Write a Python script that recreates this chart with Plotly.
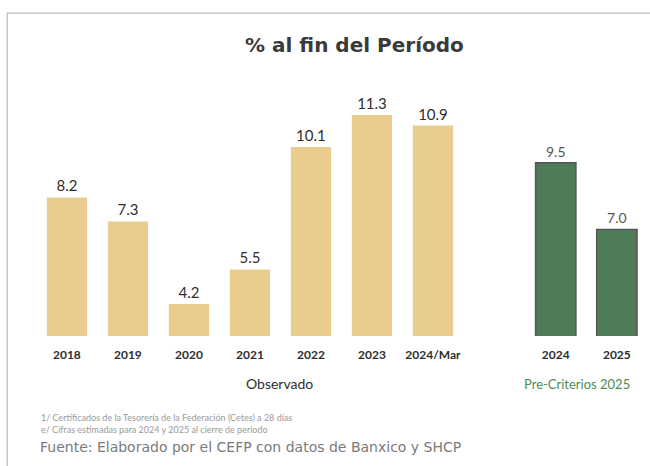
import plotly.graph_objects as go

obs_years = ["2018", "2019", "2020", "2021", "2022", "2023", "2024/Mar"]
obs_values = [8.2, 7.3, 4.2, 5.5, 10.1, 11.3, 10.9]
est_years = ["2024", "2025"]
est_values = [9.5, 7.0]

title = "% al fin del Período"
footnote_1 = "1/ Certificados de la Tesorería de la Federación (Cetes) a 28 días"
footnote_2 = "e/ Cifras estimadas para 2024 y 2025 al cierre de periodo"
source = "Fuente: Elaborado por el CEFP con datos de Banxico y SHCP"

font = "Lato"

fig = go.Figure()
fig.add_trace(go.Bar(x=obs_years, y=obs_values, xaxis="x", yaxis="y",
                     marker=dict(color="#EACC8F", line=dict(width=0)),
                     text=[f"{v:.1f}" for v in obs_values], textposition="outside",
                     textfont=dict(family=font, size=15, color="#2e2e2e"),
                     cliponaxis=False))
fig.add_trace(go.Bar(x=est_years, y=est_values, xaxis="x2", yaxis="y",
                     marker=dict(color="#4E7C56", line=dict(width=1.5, color="#555555")),
                     text=[f"{v:.1f}" for v in est_values], textposition="outside",
                     textfont=dict(family=font, size=14, color="#555555"),
                     cliponaxis=False))

tick_style = dict(type="category", showgrid=False, zeroline=False, showline=False,
                  ticks="outside", ticklen=8, tickcolor="rgba(0,0,0,0)",
                  tickfont=dict(family=font, size=12, color="#2e2e2e", weight="bold"))

fig.update_layout(
    width=650, height=466,
    margin=dict(l=0, r=0, t=0, b=0),
    paper_bgcolor="white", plot_bgcolor="white",
    showlegend=False, bargap=0.34,
    xaxis=dict(domain=[0.056, 0.713], **tick_style),
    xaxis2=dict(domain=[0.808, 0.996], anchor="y", **tick_style),
    yaxis=dict(range=[3, 12.5], domain=[0.279, 0.822], visible=False),
    shapes=[dict(type="rect", xref="paper", yref="paper", x0=0.011, x1=1.05, y0=-0.05, y1=0.972,
                 line=dict(color="#a8a8a8", width=1))],
    annotations=[
        dict(text="<b>" + title + "</b>", x=0.546, y=0.903, xref="paper", yref="paper",
             xanchor="center", yanchor="middle", showarrow=False,
             font=dict(family="DejaVu Sans", size=20, color="#3a3a3a")),
        dict(text="Observado", x=0.43, y=0.176, xref="paper", yref="paper", showarrow=False,
             xanchor="center", yanchor="middle",
             font=dict(family=font, size=14, color="#2e2e2e")),
        dict(text="Pre-Criterios 2025", x=0.888, y=0.176, xref="paper", yref="paper", showarrow=False,
             xanchor="center", yanchor="middle",
             font=dict(family=font, size=13, color="#4E8A52")),
        dict(text=footnote_1, x=0.06, y=0.105, xref="paper", yref="paper", showarrow=False,
             xanchor="left", yanchor="middle", font=dict(family=font, size=9, color="#9a9a9a")),
        dict(text=footnote_2, x=0.06, y=0.079, xref="paper", yref="paper", showarrow=False,
             xanchor="left", yanchor="middle", font=dict(family=font, size=9, color="#9a9a9a")),
        dict(text=source, x=0.058, y=0.04, xref="paper", yref="paper", showarrow=False,
             xanchor="left", yanchor="middle",
             font=dict(family="DejaVu Sans", size=14, color="#7a7a7a")),
    ],
)

fig.write_html("out.html", config={"displayModeBar": False},
               post_script="document.body.style.margin='0';")
